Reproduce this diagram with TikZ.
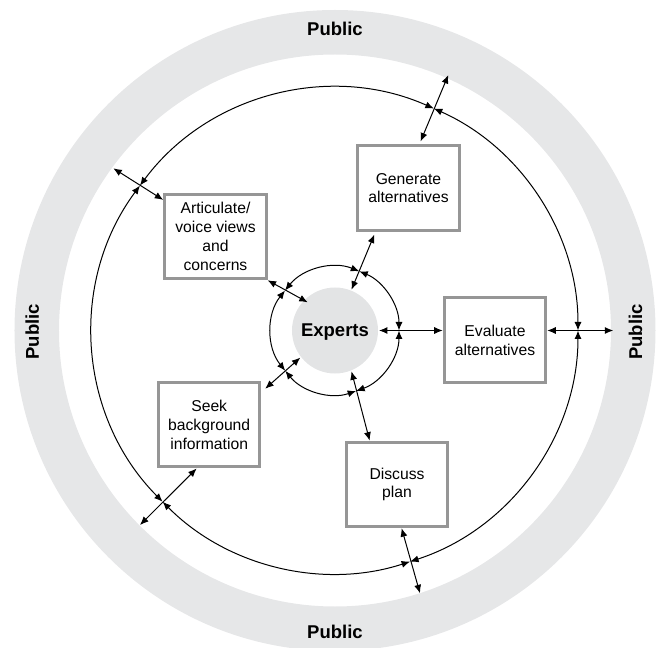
\documentclass[tikz,border=0pt]{standalone}
\usepackage{fontspec}
\setmainfont{Liberation Sans}
\usetikzlibrary{arrows.meta}
\definecolor{ringgray}{RGB}{230,231,232}
\definecolor{boxgray}{RGB}{150,150,150}
\definecolor{expgray}{RGB}{227,228,229}
\begin{document}
\begin{tikzpicture}[x=1pt,y=1pt,
  stepbox/.style={draw=boxgray, line width=3pt, fill=white, minimum width=101.5pt,
    minimum height=84.5pt, inner sep=0pt, align=center,
    font=\fontsize{15.7}{18.8}\selectfont},
  publab/.style={font=\fontsize{18.5}{20}\selectfont\bfseries, inner sep=0pt},
  ringarc/.style={line width=1pt, {Latex[length=8.5pt,width=7pt]}-{Latex[length=8.5pt,width=7pt]}},
  dbl/.style={line width=1pt, {Latex[length=8.5pt,width=7pt]}-{Latex[length=8.5pt,width=7pt]}}
]
\useasboundingbox (-335,-317.5) rectangle (324,330.5);
% public ring
\fill[ringgray, even odd rule] (0,0) circle[radius=320.5] (0,0) circle[radius=276];
\node[publab] (pubT) at (0,302) {Public};
\node[publab] (pubB) at (0,-301.5) {Public};
\node[publab, rotate=90] (pubL) at (-302.7,-1.2) {Public};
\node[publab, rotate=90] (pubR) at (300.5,-1.5) {Public};
% big circle arcs
\foreach \a/\b in {-72/0, 0/66, 66/143.4, 143.4/224.8, 224.8/288}
  \draw[ringarc] (\a:243) arc[start angle=\a, end angle=\b, radius=243];
% small circle arcs
\foreach \a/\b in {-70.7/0, 0/67.7, 67.7/141.3, 141.3/219, 219/289.3}
  \draw[ringarc] (\a:64) arc[start angle=\a, end angle=\b, radius=64];
% experts
\node[circle, fill=expgray, minimum size=86pt, inner sep=0pt, outer sep=1pt,
  font=\fontsize{18.5}{20}\selectfont\bfseries, text depth=0pt] (exp) at (0,0) {Experts};
% boxes
\node[stepbox] (art) at (-119.5,94) {Articulate/\\voice views\\and\\concerns};
\node[stepbox] (gen) at (73.5,142.5) {Generate\\alternatives};
\node[stepbox] (eva) at (160,-9.5) {Evaluate\\alternatives};
\node[stepbox] (seek) at (-125.8,-94.2) {Seek\\background\\information};
\node[stepbox] (dis) at (62,-153.9) {Discuss\\plan};
% free ends
\coordinate (aOut) at (-221.7,162.2);
\coordinate (cOut) at (113.3,255.5);
\coordinate (fOut) at (278.3,0);
\coordinate (hOut) at (85,-262.8);
\coordinate (jOut) at (-195,-194.5);
% inner arrows
\draw[dbl, shorten <=-5pt] (exp.136.1) -- (art.-40.6);
\draw[dbl, shorten >=3pt] (exp.68.1) -- (gen.233.7);
\draw[dbl] (exp.0) -- (exp.0 -| eva.west);
\draw[dbl] (exp.-68.5) -- (dis.122.9);
\draw[dbl, shorten >=5pt] (exp.218.2) -- (seek.32.5);
% outer arrows
\draw[dbl] (art.145.8) -- (aOut);
\draw[dbl, shorten <=3pt] (gen.76.5) -- (cOut);
\draw[dbl] (eva.east |- exp.0) -- (fOut);
\draw[dbl] (dis.-84.9) -- (hOut);
\draw[dbl] (seek.254.2) -- (jOut);
\end{tikzpicture}
\end{document}
